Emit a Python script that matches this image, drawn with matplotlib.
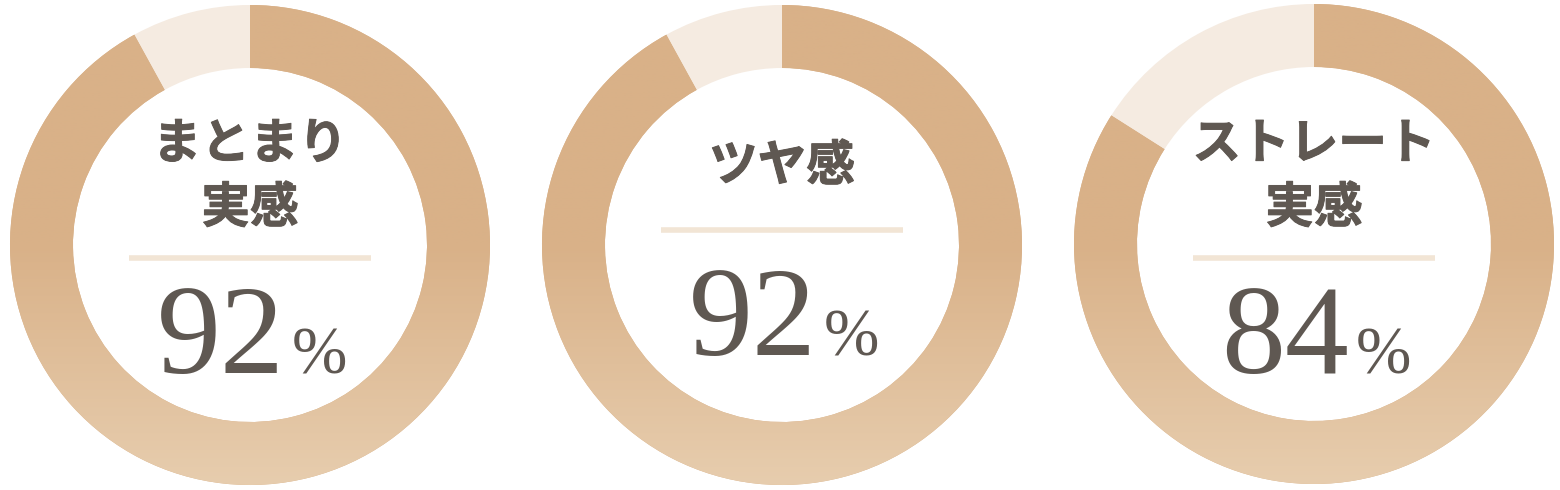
import matplotlib.pyplot as plt
import matplotlib.patheffects as pe
import numpy as np
from matplotlib.colors import LinearSegmentedColormap

plt.rcParams['font.family'] = ['Noto Sans CJK JP', 'DejaVu Sans']

titles = [["まとまり", "実感"], ["ツヤ感"], ["ストレート", "実感"]]
values = [92, 92, 84]
value_labels = ["92", "92", "84"]

fill_top = "#d9b188"
fill_bottom = "#e7cdae"
rest_color = "#f5ebe1"
text_color = "#5f5852"
line_color = "#f2e5d5"

fig = plt.figure(figsize=(15.6, 4.9), dpi=100)
W, H = 1560, 490
R = 240
centers = [(250, 245), (782, 245), (1314, 244)]
grad = LinearSegmentedColormap.from_list("g", [fill_top, fill_top, fill_bottom], N=256)
bold = [pe.withStroke(linewidth=0.7, foreground=text_color)]

for i, (cx, cy) in enumerate(centers):
    ax = fig.add_axes([(cx - R) / W, (H - cy - R) / H, 2 * R / W, 2 * R / H])
    wedges, _ = ax.pie([values[i], 100 - values[i]], colors=[fill_top, rest_color],
                       startangle=90, counterclock=False, radius=1,
                       wedgeprops=dict(width=63 / R, linewidth=0))
    # vertical gradient on the filled part
    img = ax.imshow(np.linspace(0, 1, 256).reshape(-1, 1), cmap=grad, aspect='auto',
                    extent=(-1, 1, -1, 1), origin='upper', zorder=2)
    img.set_clip_path(wedges[0])
    ax.set_xlim(-1, 1)
    ax.set_ylim(-1, 1)
    ax.axis('off')

    def py(p):
        return (cy - p) / R

    if len(titles[i]) == 2:
        ys = [144, 208]
        line_y = 258
        base_y = 373
    else:
        ys = [166]
        line_y = 230
        base_y = 355
    for t, yy in zip(titles[i], ys):
        ax.text(0, py(yy), t, ha='center', va='center', fontsize=35,
                fontweight='bold', color=text_color, zorder=3, path_effects=bold)
    ax.plot([-0.504, 0.504], [py(line_y), py(line_y)], color=line_color,
            lw=4, solid_capstyle='butt', zorder=3)
    ax.text(0.145, py(base_y), value_labels[i], ha='right', va='baseline',
            fontsize=92, family='Liberation Serif', color=text_color, zorder=3)
    ax.text(0.175, py(base_y), "%", ha='left', va='baseline',
            fontsize=48, family='Liberation Serif', color=text_color, zorder=3)

fig.savefig("out.png", dpi=100, facecolor="white")
